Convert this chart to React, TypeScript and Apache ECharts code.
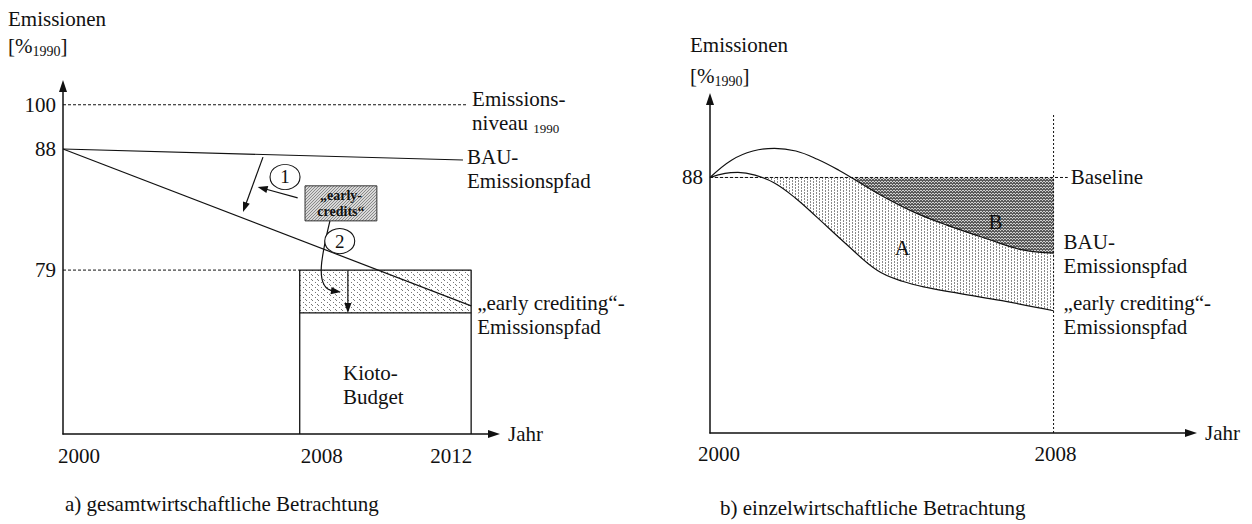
import React, { useEffect, useRef } from 'react';
import * as echarts from 'echarts';

// ---------- panel a) gesamtwirtschaftliche Betrachtung (schematic axis units) ----------
const aXTicks = [0, 58, 100];
const aXLabels = ['2000', '2008', '2012'];
const aYTicks = [93, 80.5, 46.3];
const aYLabels = ['100', '88', '79'];
const aNiveau = [[0, 93], [99, 93]];
const aBau = [[0, 80.5], [98, 77.4]];
const aEarly = [[0, 80.5], [100, 36.2]];
const aBudgetGuide = [[0, 46.3], [58, 46.3]];
const aKioto = [[58, 0], [58, 46.3], [100, 46.3], [100, 0]];
const aReduced = [[58, 34.2], [100, 34.2]];
const aCreditsFill = [[58, 34.2, 100, 46.3]];
const aCreditsBox = [[59.3, 60.2, 76.9, 70.1]];
const aArrows = [
  [49, 78.2, 44.1, 62.7],
  [57.5, 66.7, 47.7, 69.8],
  [69.8, 46.1, 69.8, 34.2],
];
const aCurvedArrow = [[65.4, 60.2, 63.4, 50.6, 61.5, 41.2, 68.1, 40.1]];
const aMarkers = [
  { name: '1', value: [54.4, 72.6] },
  { name: '2', value: [67.8, 54.5] },
];
const aKiotoLabel = [[68.6, 13.8]];

// ---------- panel b) einzelwirtschaftliche Betrachtung ----------
const bXTicks = [2000, 2008];
const bXLabels = ['2000', '2008'];
const bYTicks = [88];
const bBaselineValue = 88;
const bBaseline = [[2000, 88], [2008.33, 88]];
const bVertical = [[2008, 60], [2008, 95]];
const bBau = [
  [2000, 88], [2000.5, 89.9], [2001, 90.9], [2001.5, 91.2], [2002, 90.9], [2002.5, 90.0],
  [2003, 88.8], [2003.5, 87.4], [2004, 86.0], [2004.75, 84.2], [2005.5, 82.8], [2006.5, 81.2],
  [2007.25, 80.1], [2008, 79.7],
];
const bEarly = [
  [2000, 88], [2000.35, 88.45], [2000.65, 88.55], [2001.05, 88.25], [2001.5, 87.4], [2002, 85.7],
  [2002.5, 83.6], [2003.15, 80.8], [2003.9, 77.8], [2004.5, 76.6], [2005.1, 75.9], [2005.8, 75.3],
  [2006.8, 74.5], [2008, 73.4],
];
const bMask = [[2000, 88, 2008, 96.6]];
const bAreaLabels = [
  [2004.48, 80.25, 'A'],
  [2006.65, 83.1, 'B'],
];

const FONT = '"Liberation Serif", "Times New Roman", serif';
const INK = '#111111';
const FS = 21;
const LH = 24;

const txt = { fontFamily: FONT, fontSize: FS, color: INK };

function makePattern(w: number, h: number, bg: string, dots: number[][], dot: string) {
  const c = document.createElement('canvas');
  c.width = w;
  c.height = h;
  const ctx = c.getContext('2d')!;
  ctx.fillStyle = bg;
  ctx.fillRect(0, 0, w, h);
  ctx.fillStyle = dot;
  dots.forEach(([x, y]) => ctx.fillRect(x, y, 1, 1));
  return { image: c, repeat: 'repeat' };
}

function tickFormatter(ticks: number[], labels: string[]) {
  return (v: number) => {
    const i = ticks.findIndex((t) => Math.abs(t - v) < 1e-6);
    return i < 0 ? '' : `{t${i}|${labels[i]}}`;
  };
}

function arrowHead(tip: number[], from: number[]) {
  const dx = tip[0] - from[0];
  const dy = tip[1] - from[1];
  const len = Math.hypot(dx, dy) || 1;
  const ux = dx / len;
  const uy = dy / len;
  const L = 10;
  const W = 3.6;
  const bx = tip[0] - ux * L;
  const by = tip[1] - uy * L;
  return {
    type: 'polygon',
    shape: { points: [[tip[0], tip[1]], [bx - uy * W, by + ux * W], [bx + uy * W, by - ux * W]] },
    style: { fill: INK },
  };
}

function rectOf(api: any) {
  const p1 = api.coord([api.value(0), api.value(1)]);
  const p2 = api.coord([api.value(2), api.value(3)]);
  return {
    x: Math.min(p1[0], p2[0]),
    y: Math.min(p1[1], p2[1]),
    width: Math.abs(p2[0] - p1[0]),
    height: Math.abs(p2[1] - p1[1]),
  };
}

const lineBase = {
  type: 'line',
  symbol: 'none',
  showSymbol: false,
  silent: true,
  z: 3,
};

function axisLine() {
  return {
    onZero: false,
    symbol: ['none', 'triangle'],
    symbolSize: [8, 12],
    lineStyle: { color: INK, width: 1.5 },
  };
}

function textSeries(xAxisIndex: number, data: any[], lineHeight: number, align: string) {
  return {
    type: 'custom', xAxisIndex, yAxisIndex: xAxisIndex, z: 8, silent: true,
    data, encode: { x: 0, y: 1 },
    renderItem: (_p: any, api: any) => {
      const p = api.coord([api.value(0), api.value(1)]);
      return {
        type: 'text',
        style: {
          text: String(api.value(2)).replace('|', '\n'), x: p[0], y: p[1],
          align, verticalAlign: 'middle', fill: INK,
          fontFamily: FONT, fontSize: FS, lineHeight,
        },
      };
    },
  };
}

function buildOption() {
  const patA = makePattern(6, 3, '#ffffff', [[0, 0], [0, 1], [3, 1], [3, 2]], '#8a8a8a');
  const patB = makePattern(3, 3, '#d0d0d0', [[0, 0], [1, 1], [2, 2], [2, 0], [0, 2], [1, 0]], '#5a5a5a');
  const patC = makePattern(6, 5, '#ffffff', [[0, 0], [3, 2], [5, 4]], '#777777');
  const patBox = makePattern(3, 3, '#d8d8d8', [[0, 0], [2, 1], [1, 2]], '#8a8a8a');

  return {
    animation: false,
    backgroundColor: '#ffffff',
    grid: [
      { left: 63, top: 86, width: 431, height: 348 },
      { left: 710, top: 99, width: 481, height: 334 },
    ],
    xAxis: [
      {
        gridIndex: 0, type: 'value', min: 0, max: 105.6, z: 10,
        axisLine: axisLine(), axisTick: { show: false }, splitLine: { show: false },
        axisLabel: {
          customValues: aXTicks, formatter: tickFormatter(aXTicks, aXLabels), margin: 11, ...txt,
          rich: {
            t0: { ...txt, padding: [0, 0, 0, 32] },
            t1: { ...txt, padding: [0, 0, 0, 44] },
            t2: { ...txt, padding: [0, 40, 0, 0] },
          },
        },
        name: 'Jahr', nameLocation: 'end', nameGap: 14, nameTextStyle: txt,
      },
      {
        gridIndex: 1, type: 'value', min: 2000, max: 2011.2, z: 10,
        axisLine: axisLine(), axisTick: { show: false }, splitLine: { show: false },
        axisLabel: {
          customValues: bXTicks, formatter: tickFormatter(bXTicks, bXLabels), margin: 10, ...txt,
          rich: {
            t0: { ...txt, padding: [0, 0, 0, 18] },
            t1: { ...txt, padding: [0, 0, 0, 4] },
          },
        },
        name: 'Jahr', nameLocation: 'end', nameGap: 14, nameTextStyle: txt,
      },
    ],
    yAxis: [
      {
        gridIndex: 0, type: 'value', min: 0, max: 98.3, z: 10,
        axisLine: axisLine(), axisTick: { show: false }, splitLine: { show: false },
        axisLabel: {
          customValues: aYTicks, margin: 7, ...txt,
          formatter: (v: number) => {
            const i = aYTicks.findIndex((t) => Math.abs(t - v) < 1e-6);
            return i < 0 ? '' : aYLabels[i];
          },
        },
      },
      {
        gridIndex: 1, type: 'value', min: 60, max: 96.6, z: 10,
        axisLine: axisLine(), axisTick: { show: false }, splitLine: { show: false },
        axisLabel: { customValues: bYTicks, margin: 7, ...txt, formatter: (v: number) => String(Math.round(v)) },
      },
    ],
    graphic: [
      { type: 'text', x: 8, y: 19, style: { text: 'Emissionen', font: `${FS}px ${FONT}`, fill: INK, verticalAlign: 'middle' } },
      {
        type: 'text', x: 8, y: 46,
        style: {
          text: '{n|[%}{s|1990}{n|]}', fill: INK, verticalAlign: 'middle',
          rich: {
            n: { fontFamily: FONT, fontSize: FS, lineHeight: 24, fill: INK },
            s: { fontFamily: FONT, fontSize: 14, lineHeight: 16, verticalAlign: 'bottom', fill: INK },
          },
        },
      },
      { type: 'text', x: 690, y: 45, style: { text: 'Emissionen', font: `${FS}px ${FONT}`, fill: INK, verticalAlign: 'middle' } },
      {
        type: 'text', x: 690, y: 76,
        style: {
          text: '{n|[%}{s|1990}{n|]}', fill: INK, verticalAlign: 'middle',
          rich: {
            n: { fontFamily: FONT, fontSize: FS, lineHeight: 24, fill: INK },
            s: { fontFamily: FONT, fontSize: 14, lineHeight: 16, verticalAlign: 'bottom', fill: INK },
          },
        },
      },
      { type: 'text', x: 65, y: 504, style: { text: 'a) gesamtwirtschaftliche Betrachtung', font: `${FS}px ${FONT}`, fill: INK, verticalAlign: 'middle' } },
      { type: 'text', x: 720, y: 508, style: { text: 'b) einzelwirtschaftliche Betrachtung', font: `${FS}px ${FONT}`, fill: INK, verticalAlign: 'middle' } },
    ],
    series: [
      // ---------------- panel a ----------------
      {
        type: 'custom', xAxisIndex: 0, yAxisIndex: 0, z: 1, silent: true,
        data: aCreditsFill, encode: { x: [0, 2], y: [1, 3] },
        renderItem: (_p: any, api: any) => ({ type: 'rect', shape: rectOf(api), style: { fill: patC } }),
      },
      { ...lineBase, xAxisIndex: 0, yAxisIndex: 0, data: aBudgetGuide, lineStyle: { color: INK, width: 1, type: [3, 2] } },
      { ...lineBase, xAxisIndex: 0, yAxisIndex: 0, data: aKioto, lineStyle: { color: INK, width: 1.3 } },
      { ...lineBase, xAxisIndex: 0, yAxisIndex: 0, data: aReduced, lineStyle: { color: INK, width: 1.3 } },
      {
        ...lineBase, xAxisIndex: 0, yAxisIndex: 0, data: aNiveau, lineStyle: { color: INK, width: 1, type: [3, 2] },
        endLabel: {
          show: true, distance: 5, offset: [0, 6],
          formatter: '{n|Emissions-}\n{n|niveau }{s|1990}',
          rich: {
            n: { fontFamily: FONT, fontSize: FS, lineHeight: LH, color: INK },
            s: { fontFamily: FONT, fontSize: 13, lineHeight: 15, verticalAlign: 'bottom', color: INK },
          },
        },
      },
      {
        ...lineBase, xAxisIndex: 0, yAxisIndex: 0, data: aBau, lineStyle: { color: INK, width: 1.2 },
        endLabel: { show: true, distance: 4, offset: [0, 9], formatter: 'BAU-\nEmissionspfad', ...txt, lineHeight: LH },
      },
      {
        ...lineBase, xAxisIndex: 0, yAxisIndex: 0, data: aEarly, lineStyle: { color: INK, width: 1.2 },
        endLabel: { show: true, distance: 6, offset: [0, 9], formatter: '„early crediting“-\nEmissionspfad', ...txt, lineHeight: LH },
      },
      {
        type: 'custom', xAxisIndex: 0, yAxisIndex: 0, z: 5, silent: true,
        data: aArrows, encode: { x: [0, 2], y: [1, 3] },
        renderItem: (_p: any, api: any) => {
          const p1 = api.coord([api.value(0), api.value(1)]);
          const p2 = api.coord([api.value(2), api.value(3)]);
          const len = Math.hypot(p2[0] - p1[0], p2[1] - p1[1]) || 1;
          const ux = (p2[0] - p1[0]) / len;
          const uy = (p2[1] - p1[1]) / len;
          return {
            type: 'group',
            children: [
              { type: 'line', shape: { x1: p1[0], y1: p1[1], x2: p2[0] - ux * 8, y2: p2[1] - uy * 8 }, style: { stroke: INK, lineWidth: 1.2 } },
              arrowHead(p2, p1),
            ],
          };
        },
      },
      {
        type: 'custom', xAxisIndex: 0, yAxisIndex: 0, z: 5, silent: true,
        data: aCurvedArrow, encode: { x: [0, 2, 4, 6], y: [1, 3, 5, 7] },
        renderItem: (_p: any, api: any) => {
          const p0 = api.coord([api.value(0), api.value(1)]);
          const c1 = api.coord([api.value(2), api.value(3)]);
          const c2 = api.coord([api.value(4), api.value(5)]);
          const p3 = api.coord([api.value(6), api.value(7)]);
          const len = Math.hypot(p3[0] - c2[0], p3[1] - c2[1]) || 1;
          const ux = (p3[0] - c2[0]) / len;
          const uy = (p3[1] - c2[1]) / len;
          return {
            type: 'group',
            children: [
              {
                type: 'bezierCurve',
                shape: { x1: p0[0], y1: p0[1], cpx1: c1[0], cpy1: c1[1], cpx2: c2[0], cpy2: c2[1], x2: p3[0] - ux * 8, y2: p3[1] - uy * 8 },
                style: { stroke: INK, lineWidth: 1.2, fill: 'none' },
              },
              arrowHead(p3, c2),
            ],
          };
        },
      },
      {
        type: 'custom', xAxisIndex: 0, yAxisIndex: 0, z: 6, silent: true,
        data: aCreditsBox, encode: { x: [0, 2], y: [1, 3] },
        renderItem: (_p: any, api: any) => {
          const r = rectOf(api);
          return {
            type: 'group',
            children: [
              { type: 'rect', shape: r, style: { fill: patBox, stroke: '#333', lineWidth: 1 } },
              {
                type: 'text',
                style: {
                  text: '„early-\ncredits“', x: r.x + r.width / 2, y: r.y + r.height / 2,
                  align: 'center', verticalAlign: 'middle', fill: INK,
                  fontFamily: FONT, fontSize: 14, fontWeight: 'bold', lineHeight: 16,
                },
              },
            ],
          };
        },
      },
      {
        type: 'scatter', xAxisIndex: 0, yAxisIndex: 0, z: 7, silent: true,
        data: aMarkers, symbol: 'circle', symbolSize: [30, 25],
        itemStyle: { color: '#ffffff', borderColor: INK, borderWidth: 1, opacity: 1 },
        label: { show: true, position: 'inside', formatter: '{b}', fontFamily: FONT, fontSize: 19, color: INK },
      },
      textSeries(0, aKiotoLabel.map((d) => [d[0], d[1], 'Kioto-|Budget']), LH, 'left'),

      // ---------------- panel b ----------------
      {
        type: 'line', xAxisIndex: 1, yAxisIndex: 1, symbol: 'none', showSymbol: false, silent: true, z: 1,
        data: bEarly, smooth: 0.4, lineStyle: { width: 0 },
        areaStyle: { origin: bBaselineValue, color: patA, opacity: 1 },
      },
      {
        type: 'line', xAxisIndex: 1, yAxisIndex: 1, symbol: 'none', showSymbol: false, silent: true, z: 1,
        data: bBau, smooth: 0.4, lineStyle: { width: 0 },
        areaStyle: { origin: bBaselineValue, color: patB, opacity: 1 },
      },
      {
        type: 'custom', xAxisIndex: 1, yAxisIndex: 1, z: 2, silent: true,
        data: bMask, encode: { x: [0, 2], y: [1, 3] },
        renderItem: (_p: any, api: any) => ({ type: 'rect', shape: rectOf(api), style: { fill: '#ffffff' } }),
      },
      {
        ...lineBase, xAxisIndex: 1, yAxisIndex: 1, data: bBaseline, lineStyle: { color: INK, width: 1, type: [3, 2] },
        endLabel: { show: true, distance: 3, formatter: 'Baseline', ...txt },
      },
      { ...lineBase, xAxisIndex: 1, yAxisIndex: 1, data: bVertical, lineStyle: { color: INK, width: 1, type: [2, 2] } },
      {
        ...lineBase, xAxisIndex: 1, yAxisIndex: 1, data: bBau, smooth: 0.4, lineStyle: { color: INK, width: 1.2 },
        endLabel: { show: true, distance: 10, offset: [0, 1], formatter: 'BAU-\nEmissionspfad', ...txt, lineHeight: LH },
      },
      {
        ...lineBase, xAxisIndex: 1, yAxisIndex: 1, data: bEarly, smooth: 0.4, lineStyle: { color: INK, width: 1.2 },
        endLabel: { show: true, distance: 10, offset: [0, 4], formatter: '„early crediting“-\nEmissionspfad', ...txt, lineHeight: LH },
      },
      textSeries(1, bAreaLabels, LH, 'center'),
    ],
  };
}

export default function App() {
  const ref = useRef<HTMLDivElement>(null);
  useEffect(() => {
    if (!ref.current) return;
    const chart = echarts.init(ref.current, null, { renderer: 'svg' });
    chart.setOption(buildOption() as any);
    return () => chart.dispose();
  }, []);
  return <div ref={ref} style={{ position: 'absolute', left: 0, top: 0, width: 1252, height: 524 }} />;
}
